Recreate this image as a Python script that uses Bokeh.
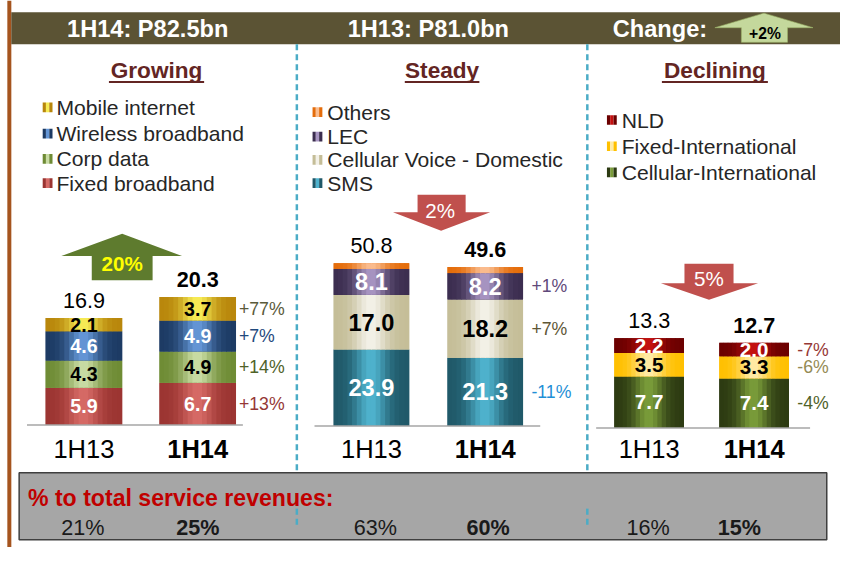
import math
from bokeh.plotting import figure
from bokeh.models import Range1d, ColumnDataSource
from bokeh.core.properties import value
from bokeh.embed import file_html
from bokeh.resources import INLINE

# ---------------- data ----------------
periods = ["1H13", "1H14"]

header_1h14 = "1H14: P82.5bn"
header_1h13 = "1H13: P81.0bn"
header_change_label = "Change:"
header_change = "+2%"

# stacks are listed bottom -> top
growing_names = ["Fixed broadband", "Corp data", "Wireless broadband", "Mobile internet"]
growing_1h13 = [5.9, 4.3, 4.6, 2.1]
growing_1h14 = [6.7, 4.9, 4.9, 3.7]
growing_totals = [16.9, 20.3]
growing_changes = ["+13%", "+14%", "+7%", "+77%"]
growing_trend = "20%"

steady_names = ["SMS", "Cellular Voice - Domestic", "LEC", "Others"]
steady_1h13 = [23.9, 17.0, 8.1, 1.8]
steady_1h14 = [21.3, 18.2, 8.2, 1.9]
steady_totals = [50.8, 49.6]
steady_changes = ["-11%", "+7%", "+1%", ""]
steady_trend = "2%"

declining_names = ["Cellular-International", "Fixed-International", "NLD"]
declining_1h13 = [7.7, 3.5, 2.2]
declining_1h14 = [7.4, 3.3, 2.0]
declining_totals = [13.3, 12.7]
declining_changes = ["-4%", "-6%", "-7%"]
declining_trend = "5%"

share_title = "% to total service revenues:"
share_labels = ["21%", "25%", "63%", "60%", "16%", "15%"]

# ---------------- canvas ----------------
W, H = 856, 563
FS = 840 / 856
FONT = value("Liberation Sans")


def px(s):
    return f"{s * FS:.1f}px"


p = figure(width=840, height=547, x_range=Range1d(0, W), y_range=Range1d(H, 0),
           toolbar_location=None, output_backend="svg", min_border=0,
           x_axis_type=None, y_axis_type=None)
p.grid.visible = False
p.outline_line_color = None
p.background_fill_color = "white"
p.border_fill_color = "white"


def txt(x, y, s, size, color="#000000", bold=False, align="center", baseline="middle", **kw):
    p.text(x=[x], y=[y], text=[s], text_font=FONT, text_font_size=px(size),
           text_color=color, text_font_style="bold" if bold else "normal",
           text_align=align, text_baseline=baseline, **kw)


def mix(c1, c2, t):
    a = [int(c1[i:i + 2], 16) for i in (1, 3, 5)]
    b = [int(c2[i:i + 2], 16) for i in (1, 3, 5)]
    return "#%02x%02x%02x" % tuple(round(a[j] + (b[j] - a[j]) * t) for j in range(3))


# left border
p.segment(x0=[9], x1=[9], y0=[0], y1=[H], line_color="#A5541E", line_width=4)

# header band
p.quad(left=[11], right=[W], top=[12], bottom=[45], fill_color="#5B5334", line_color=None)
txt(150, 29, header_1h14, 24, "white", True)
txt(436, 29, header_1h13, 24, "white", True)
txt(672, 29, header_change_label, 24, "white", True)
p.patch(x=[728, 778, 828, 802, 802, 755, 755], y=[28, 13, 28, 28, 43, 43, 28],
        fill_color="#C4D89C", line_color="#9DB56A", line_width=0.6)
txt(779, 34, header_change, 16, "#000000", True)

# dashed separators
for xx in (302, 598):
    p.segment(x0=[xx], x1=[xx], y0=[45], y1=[487], line_color="#4BACC6", line_width=2.5, line_dash="6 4")

# bottom grey box
p.quad(left=[19], right=[842], top=[486], bottom=[555], fill_color="#A6A6A6",
       line_color="#3F3F3F", line_width=1.5)
for xx in (302, 598):
    p.segment(x0=[xx], x1=[xx], y0=[523], y1=[541], line_color="#4BACC6", line_width=2.5, line_dash="6 4")
txt(28, 512, share_title, 23.5, "#C00000", True, align="left")
share_x = [84, 201, 382, 497, 660, 753]
for i, s in enumerate(share_labels):
    txt(share_x[i], 542, s, 22, "#1A1A1A", bold=(i % 2 == 1))

# ---------------- panels ----------------
panels = [
    dict(name="growing", title="Growing", tx=159, tw=97,
         names=growing_names, v13=growing_1h13, v14=growing_1h14, totals=growing_totals,
         changes=growing_changes, trend=growing_trend,
         base=437, k=6.52, centers=[85, 201], width=78, lab_size=20, chg_x=243,
         axis=(27, 247),
         edges=["#9B3431", "#6E8B34", "#1C3A63", "#B8860B"],
         mids=["#D66A66", "#C9DCA4", "#6496D6", "#F7EC55"],
         labc=["white", "black", "white", "black"],
         chgc=["#953735", "#4F6228", "#1F497D", "#5A5A3A"],
         leg_sq=48, leg_tx=57, leg_y=[188, 163, 137, 110],
         arrow=dict(x=[62, 124, 185, 155, 155, 93, 93], y=[263, 240, 263, 263, 288, 288, 263],
                    fill="#5E7B2E", tx=124, ty=271, tc="#FFFF00", bold=True)),
    dict(name="steady", title="Steady", tx=450, tw=76,
         names=steady_names, v13=steady_1h13, v14=steady_1h14, totals=steady_totals,
         changes=steady_changes, trend=steady_trend,
         base=438, k=3.3, centers=[378, 494], width=77, lab_size=24, chg_x=541,
         axis=(320, 550),
         edges=["#1F5868", "#C4BD97", "#3B2D4F", "#E46C0A"],
         mids=["#4FB3CE", "#F3F1E8", "#A895C2", "#FABD90"],
         labc=["white", "black", "white", None],
         chgc=["#1F8FD6", "#5E5636", "#5F497A", "#000000"],
         leg_sq=323, leg_tx=333, leg_y=[188, 164, 140, 115],
         arrow=dict(x=[425, 474, 474, 499, 449, 400, 425], y=[200, 200, 218, 218, 237, 218, 218],
                    fill="#C0504D", tx=448, ty=216, tc="white", bold=False)),
    dict(name="declining", title="Declining", tx=728, tw=108,
         names=declining_names, v13=declining_1h13, v14=declining_1h14, totals=declining_totals,
         changes=declining_changes, trend=declining_trend,
         base=440, k=6.9, centers=[661, 768], width=71, lab_size=21, chg_x=812,
         axis=(607, 825),
         edges=["#2C3A12", "#FFC000", "#6B0000"],
         mids=["#7A9C3A", "#FFEBA6", "#C41010"],
         labc=["white", "black", "white"],
         chgc=["#4F6228", "#948A54", "#953735"],
         leg_sq=623, leg_tx=633, leg_y=[177, 150, 123],
         arrow=dict(x=[697, 747, 747, 772, 722, 673, 697], y=[271, 271, 291, 291, 308, 291, 291],
                    fill="#C0504D", tx=722, ty=286, tc="white", bold=False)),
]

extra = {}
for cfg in panels:
    extra[cfg["name"]] = Range1d(start=(cfg["base"] - H) / cfg["k"], end=cfg["base"] / cfg["k"])
p.extra_y_ranges = extra

NSTRIP = 16
for cfg in panels:
    rng = cfg["name"]
    k = cfg["k"]
    # title + underline
    txt(cfg["tx"], 72.5, cfg["title"], 23, "#632523", True)
    p.segment(x0=[cfg["tx"] - cfg["tw"] / 2], x1=[cfg["tx"] + cfg["tw"] / 2], y0=[84], y1=[84],
              line_color="#632523", line_width=2)
    # legend (names bottom-up, rows given per name)
    for si, nm in enumerate(cfg["names"]):
        sy = cfg["leg_y"][si]
        sx = cfg["leg_sq"]
        e, m = cfg["edges"][si], cfg["mids"][si]
        p.quad(left=[sx - 5, sx - 1.7, sx + 1.7], right=[sx - 1.7, sx + 1.7, sx + 5],
               top=[sy - 5] * 3, bottom=[sy + 5] * 3, fill_color=[e, m, e], line_color=None)
        txt(cfg["leg_tx"], sy, nm, 21.5, "#262626", align="left")

    # bars as vertical strips (cylinder shading); strips drawn outer-to-inner so overlaps hide seams
    xs, ws, bots, tops, cols = [], [], [], [], []
    for bi, vals in enumerate([cfg["v13"], cfg["v14"]]):
        c = cfg["centers"][bi]
        w = cfg["width"]
        cum = 0.0
        for si, v in enumerate(vals):
            # a full-width base bar first
            xs.append(c); ws.append(w); bots.append(cum); tops.append(cum + v)
            cols.append(cfg["edges"][si])
            for j in range(NSTRIP):
                u = (j + 0.5) / NSTRIP
                t = math.exp(-((u - 0.5) / 0.22) ** 2)
                xs.append(c - w / 2 + u * w)
                ws.append(w / NSTRIP + 1.0 if 0 < j < NSTRIP - 1 else w / NSTRIP)
                bots.append(cum)
                tops.append(cum + v)
                cols.append(mix(cfg["edges"][si], cfg["mids"][si], t))
            cum += v
    src = ColumnDataSource(dict(x=xs, w=ws, b=bots, t=tops, c=cols))
    p.vbar(x="x", width="w", bottom="b", top="t", fill_color="c", line_color=None,
           source=src, y_range_name=rng)

    # baseline at value 0
    p.segment(x0=[cfg["axis"][0]], x1=[cfg["axis"][1]], y0=[0], y1=[0],
              line_color="#A6A6A6", line_width=1.5, y_range_name=rng)

    # segment labels, totals, category labels
    for bi, vals in enumerate([cfg["v13"], cfg["v14"]]):
        c = cfg["centers"][bi]
        cum = 0.0
        for si, v in enumerate(vals):
            if cfg["labc"][si]:
                txt(c, cum + v / 2, f"{v:.1f}", cfg["lab_size"], cfg["labc"][si], True,
                    y_range_name=rng)
            cum += v
        txt(c, cum + 18 / k, f"{cfg['totals'][bi]:.1f}", 22, "#000000", bold=(bi == 1),
            y_range_name=rng)
        txt(c, 462, periods[bi], 26, "#000000", bold=(bi == 1))

    # change labels next to 1H14 bar
    cum = 0.0
    for si, v in enumerate(cfg["v14"]):
        if cfg["changes"][si]:
            txt(cfg["chg_x"], cum + v / 2, cfg["changes"][si], 18, cfg["chgc"][si],
                align="left", y_range_name=rng)
        cum += v

    # trend arrow
    a = cfg["arrow"]
    p.patch(x=a["x"], y=a["y"], fill_color=a["fill"], line_color=None)
    txt(a["tx"], a["ty"], cfg["trend"], 21, a["tc"], a["bold"])

open("out.html", "w").write(file_html(p, INLINE))
